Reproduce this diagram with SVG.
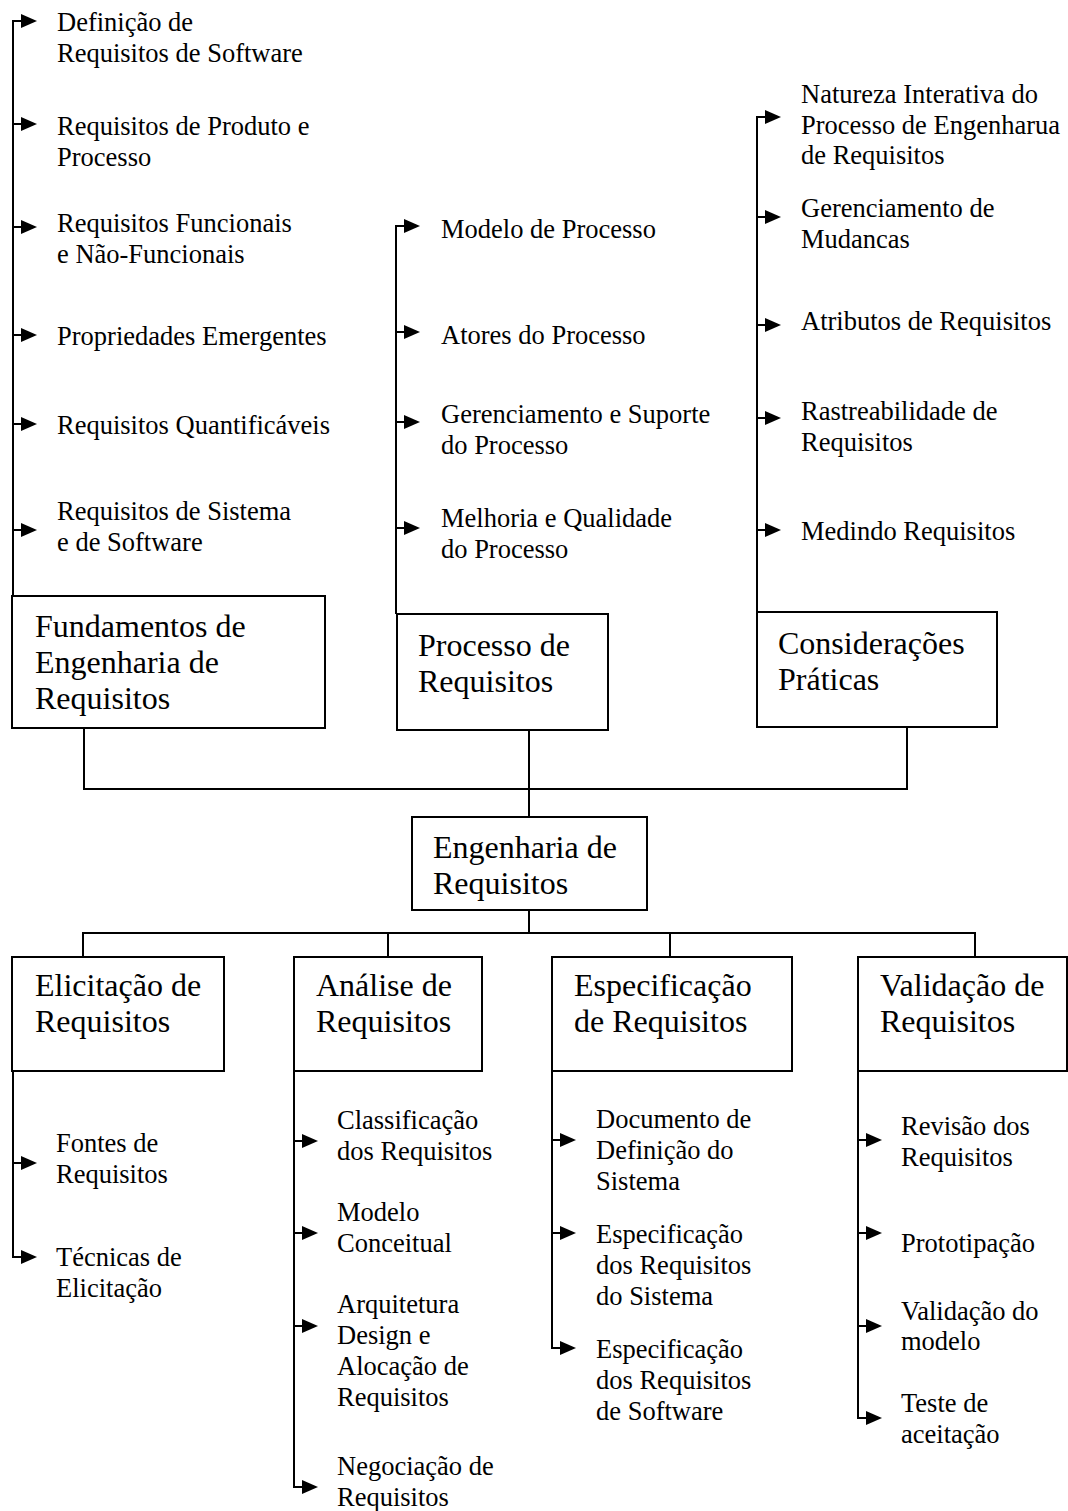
<svg xmlns="http://www.w3.org/2000/svg" width="1068" height="1511" viewBox="0 0 1068 1511">
<style>
.box{fill:#fff;stroke:#000;stroke-width:2}
.t{font-family:"Liberation Serif","Times New Roman",serif;fill:#000}
.big{font-size:32px}
.it{font-size:26.5px}
.ln{fill:none;stroke:#000;stroke-width:2}
</style>
<defs>
<marker id="ah" markerUnits="userSpaceOnUse" markerWidth="16" markerHeight="14" refX="1" refY="7" orient="auto" overflow="visible">
<path d="M0,0 L16,7 L0,14 z" fill="#000"/>
</marker>
</defs>
<rect width="1068" height="1511" fill="#fff"/>

<g id="connectors">
<path class="ln" d="M13,21 V620"/>
<path class="ln" d="M396,226 V614"/>
<path class="ln" d="M757,117 V612"/>
<path class="ln" d="M84,728 V789 H907 V727"/>
<path class="ln" d="M529,730 V817"/>
<path class="ln" d="M529,910 V933"/>
<path class="ln" d="M83,957 V933 H975 V957"/>
<path class="ln" d="M388,933 V957"/>
<path class="ln" d="M670,933 V957"/>
<path class="ln" d="M13,1071 V1257"/>
<path class="ln" d="M294,1071 V1487"/>
<path class="ln" d="M552,1071 V1348"/>
<path class="ln" d="M858,1071 V1418"/>
<g marker-end="url(#ah)">
<path class="ln" d="M12,21 H22"/>
<path class="ln" d="M12,124 H22"/>
<path class="ln" d="M12,227 H22"/>
<path class="ln" d="M12,335 H22"/>
<path class="ln" d="M12,424 H22"/>
<path class="ln" d="M12,530 H22"/>
<path class="ln" d="M395,226 H405"/>
<path class="ln" d="M395,332 H405"/>
<path class="ln" d="M395,422 H405"/>
<path class="ln" d="M395,528 H405"/>
<path class="ln" d="M756,117 H766"/>
<path class="ln" d="M756,217 H766"/>
<path class="ln" d="M756,325 H766"/>
<path class="ln" d="M756,418 H766"/>
<path class="ln" d="M756,530 H766"/>
<path class="ln" d="M12,1163 H22"/>
<path class="ln" d="M12,1257 H22"/>
<path class="ln" d="M293,1141 H303"/>
<path class="ln" d="M293,1233 H303"/>
<path class="ln" d="M293,1326 H303"/>
<path class="ln" d="M293,1487 H303"/>
<path class="ln" d="M551,1140 H561"/>
<path class="ln" d="M551,1233 H561"/>
<path class="ln" d="M551,1348 H561"/>
<path class="ln" d="M857,1140 H867"/>
<path class="ln" d="M857,1233 H867"/>
<path class="ln" d="M857,1326 H867"/>
<path class="ln" d="M857,1418 H867"/>
</g>
</g>

<g id="fundamentos">
<rect class="box" x="12" y="596" width="313" height="132"/>
<text class="t big" x="35" y="637">Fundamentos de</text>
<text class="t big" x="35" y="673">Engenharia de</text>
<text class="t big" x="35" y="709">Requisitos</text>
</g>
<g id="processo">
<rect class="box" x="397" y="614" width="211" height="116"/>
<text class="t big" x="418" y="656">Processo de</text>
<text class="t big" x="418" y="692">Requisitos</text>
</g>
<g id="consideracoes">
<rect class="box" x="757" y="612" width="240" height="115"/>
<text class="t big" x="778" y="654">Considerações</text>
<text class="t big" x="778" y="690">Práticas</text>
</g>
<g id="engenharia">
<rect class="box" x="412" y="817" width="235" height="93"/>
<text class="t big" x="433" y="858">Engenharia de</text>
<text class="t big" x="433" y="894">Requisitos</text>
</g>
<g id="elicitacao">
<rect class="box" x="12" y="957" width="212" height="114"/>
<text class="t big" x="35" y="996">Elicitação de</text>
<text class="t big" x="35" y="1032">Requisitos</text>
</g>
<g id="analise">
<rect class="box" x="294" y="957" width="188" height="114"/>
<text class="t big" x="316" y="996">Análise de</text>
<text class="t big" x="316" y="1032">Requisitos</text>
</g>
<g id="especificacao">
<rect class="box" x="552" y="957" width="240" height="114"/>
<text class="t big" x="574" y="996">Especificação</text>
<text class="t big" x="574" y="1032">de Requisitos</text>
</g>
<g id="validacao">
<rect class="box" x="858" y="957" width="209" height="114"/>
<text class="t big" x="880" y="996">Validação de</text>
<text class="t big" x="880" y="1032">Requisitos</text>
</g>

<g id="f1"><text class="t it" x="57" y="31">Definição de</text><text class="t it" x="57" y="62">Requisitos de Software</text></g>
<g id="f2"><text class="t it" x="57" y="135">Requisitos de Produto e</text><text class="t it" x="57" y="166">Processo</text></g>
<g id="f3"><text class="t it" x="57" y="232">Requisitos Funcionais</text><text class="t it" x="57" y="263">e Não-Funcionais</text></g>
<g id="f4"><text class="t it" x="57" y="345">Propriedades Emergentes</text></g>
<g id="f5"><text class="t it" x="57" y="434">Requisitos Quantificáveis</text></g>
<g id="f6"><text class="t it" x="57" y="520">Requisitos de Sistema</text><text class="t it" x="57" y="551">e de Software</text></g>

<g id="p1"><text class="t it" x="441" y="238">Modelo de Processo</text></g>
<g id="p2"><text class="t it" x="441" y="344">Atores do Processo</text></g>
<g id="p3"><text class="t it" x="441" y="423">Gerenciamento e Suporte</text><text class="t it" x="441" y="454">do Processo</text></g>
<g id="p4"><text class="t it" x="441" y="527">Melhoria e Qualidade</text><text class="t it" x="441" y="558">do Processo</text></g>

<g id="c1"><text class="t it" x="801" y="103">Natureza Interativa do</text><text class="t it" x="801" y="134">Processo de Engenharua</text><text class="t it" x="801" y="164">de Requisitos</text></g>
<g id="c2"><text class="t it" x="801" y="217">Gerenciamento de</text><text class="t it" x="801" y="248">Mudancas</text></g>
<g id="c3"><text class="t it" x="801" y="330">Atributos de Requisitos</text></g>
<g id="c4"><text class="t it" x="801" y="420">Rastreabilidade de</text><text class="t it" x="801" y="451">Requisitos</text></g>
<g id="c5"><text class="t it" x="801" y="540">Medindo Requisitos</text></g>

<g id="e1"><text class="t it" x="56" y="1152">Fontes de</text><text class="t it" x="56" y="1183">Requisitos</text></g>
<g id="e2"><text class="t it" x="56" y="1266">Técnicas de</text><text class="t it" x="56" y="1297">Elicitação</text></g>

<g id="a1"><text class="t it" x="337" y="1129">Classificação</text><text class="t it" x="337" y="1160">dos Requisitos</text></g>
<g id="a2"><text class="t it" x="337" y="1221">Modelo</text><text class="t it" x="337" y="1252">Conceitual</text></g>
<g id="a3"><text class="t it" x="337" y="1313">Arquitetura</text><text class="t it" x="337" y="1344">Design e</text><text class="t it" x="337" y="1375">Alocação de</text><text class="t it" x="337" y="1406">Requisitos</text></g>
<g id="a4"><text class="t it" x="337" y="1475">Negociação de</text><text class="t it" x="337" y="1506">Requisitos</text></g>

<g id="s1"><text class="t it" x="596" y="1128">Documento de</text><text class="t it" x="596" y="1159">Definição do</text><text class="t it" x="596" y="1190">Sistema</text></g>
<g id="s2"><text class="t it" x="596" y="1243">Especificação</text><text class="t it" x="596" y="1274">dos Requisitos</text><text class="t it" x="596" y="1305">do Sistema</text></g>
<g id="s3"><text class="t it" x="596" y="1358">Especificação</text><text class="t it" x="596" y="1389">dos Requisitos</text><text class="t it" x="596" y="1420">de Software</text></g>

<g id="v1"><text class="t it" x="901" y="1135">Revisão dos</text><text class="t it" x="901" y="1166">Requisitos</text></g>
<g id="v2"><text class="t it" x="901" y="1252">Prototipação</text></g>
<g id="v3"><text class="t it" x="901" y="1320">Validação do</text><text class="t it" x="901" y="1350">modelo</text></g>
<g id="v4"><text class="t it" x="901" y="1412">Teste de</text><text class="t it" x="901" y="1443">aceitação</text></g>
</svg>
